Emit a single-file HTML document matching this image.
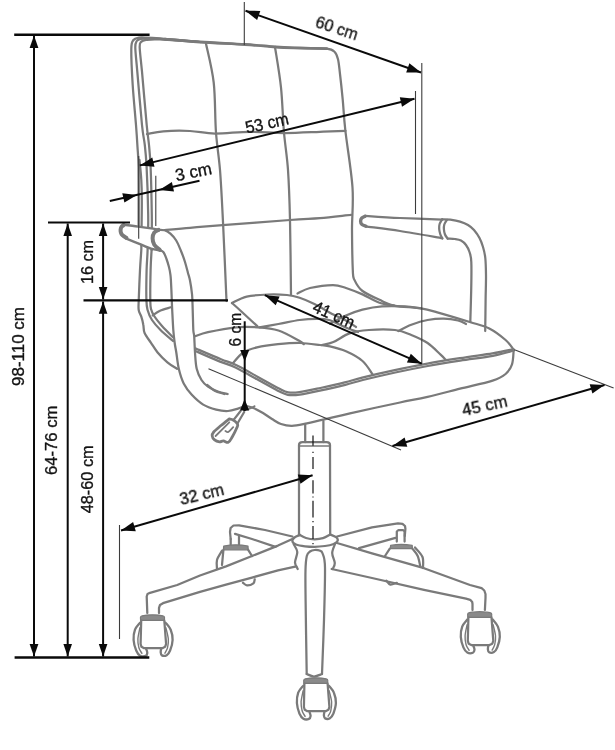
<!DOCTYPE html>
<html><head><meta charset="utf-8"><title>Chair dimensions</title>
<style>
html,body{margin:0;padding:0;background:#fff;}
svg{display:block}
text{font-family:"Liberation Sans",sans-serif;font-size:17.2px;fill:#111;stroke:#111;stroke-width:0.35px;}
</style></head><body>
<svg width="615" height="750" viewBox="0 0 615 750">
<rect width="615" height="750" fill="#fff"/>
<g fill="none" stroke="#7a7a7a" stroke-width="2.25" stroke-linecap="round" stroke-linejoin="round">
<path d="M200.0,42.0 C193.3,41.4 169.2,39.1 160.0,38.4 C150.8,37.7 148.5,37.7 145.0,37.6 C141.5,37.5 140.9,37.2 139.0,37.6 C137.1,38.0 134.8,38.1 133.5,40.0 C132.2,41.9 131.4,41.5 131.3,49.0 C131.2,56.5 131.9,72.3 132.7,85.0 C133.5,97.7 135.2,114.7 136.0,125.0 C136.8,135.3 137.1,140.0 137.5,147.0 C137.9,154.0 138.3,153.8 138.5,167.0 C138.7,180.2 138.6,216.2 138.6,226.0" />
<path d="M139.5,160.0 C139.8,163.3 140.9,173.3 141.3,180.0 C141.7,186.7 141.8,192.2 141.8,200.0 C141.9,207.8 141.6,222.5 141.6,227.0" />
<path d="M141.2,244.0 C141.2,245.0 141.5,245.7 141.3,250.0 C141.1,254.3 140.4,261.6 140.0,270.0 C139.6,278.4 138.9,294.0 138.7,300.7 C138.5,307.4 138.3,307.3 138.7,310.0 C139.1,312.7 140.5,314.2 141.3,316.7 C142.1,319.1 142.8,322.0 143.3,324.7 C143.9,327.4 143.3,330.0 144.6,333.0 C145.9,336.0 148.8,339.6 151.0,342.8 C153.2,346.1 154.9,349.2 157.6,352.5 C160.3,355.8 164.2,359.6 167.4,362.3 C170.6,365.0 175.4,367.7 177.0,368.8" />
<path d="M200.0,42.0 C193.3,41.5 168.8,39.4 160.0,38.8 C151.2,38.2 150.2,38.5 147.0,38.5 C143.8,38.5 142.7,38.4 141.0,38.8 C139.3,39.2 137.8,39.5 136.8,41.0 C135.9,42.5 135.2,42.6 135.3,47.7 C135.4,52.8 136.2,58.8 137.3,71.7 C138.4,84.6 140.8,112.8 142.0,125.0 C143.2,137.2 144.0,138.0 144.8,145.0 C145.6,152.0 146.0,155.3 146.6,167.0 C147.2,178.7 148.0,201.2 148.2,215.0 C148.4,228.8 147.9,240.8 147.6,250.0 C147.3,259.2 146.8,261.7 146.6,270.0 C146.4,278.3 146.2,293.3 146.4,300.0 C146.6,306.7 146.7,306.7 147.6,310.0 C148.5,313.3 149.8,316.7 152.0,320.0 C154.2,323.3 157.0,326.5 160.5,330.0 C164.0,333.5 170.9,339.2 173.0,341.0" />
<path d="M151.6,250.0 C151.6,244.2 152.0,228.8 151.8,215.0 C151.6,201.2 151.1,178.7 150.6,167.0 C150.1,155.3 149.7,152.0 149.0,145.0 C148.3,138.0 147.9,137.2 146.7,125.0 C145.5,112.8 143.2,84.6 142.0,71.7 C140.8,58.8 139.9,52.7 139.7,47.7 C139.5,42.8 139.9,43.3 141.0,42.0 C142.1,40.7 142.8,40.3 146.0,39.9 C149.2,39.5 151.0,39.1 160.0,39.5 C169.0,39.9 185.8,41.2 200.0,42.0 C214.2,42.8 232.3,43.7 245.0,44.5 C257.7,45.3 266.8,46.4 276.0,47.0 C285.2,47.6 291.6,47.7 300.0,48.0 C308.4,48.3 320.9,48.0 326.7,48.7 C332.5,49.4 332.8,50.2 334.7,52.0 C336.6,53.8 337.1,55.6 338.0,59.3 C338.9,63.0 339.2,67.3 340.0,74.0 C340.8,80.7 341.8,90.0 342.7,99.3 C343.6,108.6 343.7,115.3 345.3,130.0 C346.9,144.7 351.4,170.8 352.5,187.5 C353.6,204.2 351.9,216.2 352.0,230.0 C352.1,243.8 352.4,261.7 352.8,270.0 C353.2,278.3 352.8,276.3 354.4,279.8 C356.0,283.3 357.9,287.5 362.5,291.0 C367.1,294.5 376.6,298.5 382.0,301.0 C387.4,303.5 388.5,304.6 395.0,305.8 C401.5,307.0 413.9,307.3 421.0,308.4 C428.1,309.5 429.2,310.0 437.3,312.3 C445.4,314.6 461.1,319.3 469.8,322.0 C478.5,324.7 483.3,325.5 489.3,328.5 C495.3,331.5 501.5,336.5 505.6,340.0 C509.7,343.5 512.4,348.1 513.7,349.7" />
<path d="M165.0,39.2 C170.8,39.7 186.7,41.1 200.0,42.0 C213.3,42.9 232.3,43.7 245.0,44.5 C257.7,45.3 266.8,46.4 276.0,47.0 C285.2,47.6 291.6,47.7 300.0,48.0 C308.4,48.3 322.2,48.6 326.7,48.7" stroke-width="2.8"/>
<path d="M151.6,250.0 C151.4,253.3 150.8,261.7 150.6,270.0 C150.4,278.3 150.2,293.5 150.3,300.0 C150.4,306.5 150.3,306.2 151.0,309.0 C151.7,311.8 152.7,313.7 154.5,316.5 C156.3,319.3 158.9,322.5 162.0,326.0 C165.1,329.5 171.4,335.6 173.3,337.5" />
<path d="M206.0,43.7 C207.3,50.2 212.0,67.7 213.7,82.5 C215.4,97.3 214.9,117.9 216.0,132.5 C217.1,147.1 218.8,155.1 220.0,170.0 C221.2,184.9 221.9,200.2 223.0,222.0 C224.1,243.8 225.9,287.8 226.5,301.0" />
<path d="M275.0,47.0 C276.0,53.8 279.5,73.2 281.0,87.5 C282.5,101.8 282.8,118.8 284.0,132.5 C285.2,146.2 287.0,155.4 288.0,170.0 C289.0,184.6 289.5,199.2 290.0,220.0 C290.5,240.8 290.8,282.1 291.0,294.5" />
<path d="M147.0,134.0 C149.7,133.6 156.1,131.8 163.3,131.3 C170.5,130.8 181.4,130.6 190.0,131.0 C198.6,131.4 205.0,133.5 215.0,133.6 C225.0,133.7 238.4,131.9 250.0,131.8 C261.6,131.7 272.8,133.0 284.5,133.0 C296.2,133.0 309.8,132.2 320.0,131.8 C330.2,131.4 341.2,131.0 345.5,130.8" />
<path d="M164.5,230.2 C168.8,229.8 180.3,228.6 190.0,227.8 C199.7,227.0 205.8,226.5 222.5,225.2 C239.2,223.9 273.8,221.2 290.0,220.0 C306.2,218.8 309.8,218.9 320.0,218.1 C330.2,217.2 345.8,215.4 351.0,214.9" />
<path d="M232.0,303.0 C234.4,301.9 240.7,298.0 246.7,296.6 C252.7,295.2 261.2,294.8 267.9,294.5 C274.6,294.2 281.7,294.5 287.0,295.0 C292.3,295.5 295.0,296.2 299.6,297.7 C304.2,299.2 308.8,301.2 314.4,304.0 C320.0,306.8 328.3,311.9 333.4,314.6 C338.5,317.3 341.2,317.9 345.0,320.0 C348.8,322.1 354.2,325.8 356.0,327.0" />
<path d="M297.5,293.5 C299.6,292.6 304.1,289.4 310.0,288.0 C315.9,286.6 327.0,285.0 333.0,285.0 C339.0,285.0 341.1,286.4 346.0,288.0 C350.9,289.6 357.0,292.0 362.5,294.4 C368.0,296.8 373.4,300.6 378.8,302.5 C384.2,304.4 392.3,305.2 395.0,305.8" />
<path d="M232.0,303.0 C233.8,304.6 238.3,308.6 242.5,312.5 C246.7,316.4 254.8,323.9 257.3,326.2" />
<path d="M195.0,336.3 C197.2,335.6 201.2,333.7 208.0,332.2 C214.8,330.7 227.8,328.1 236.0,327.3 C244.2,326.5 250.2,326.8 257.3,327.3 C264.4,327.8 271.3,328.2 278.4,330.5 C285.4,332.8 295.4,338.7 299.6,341.0 C303.8,343.3 303.1,343.7 303.8,344.2" />
<path d="M259.4,327.3 C262.6,326.8 271.7,325.2 278.4,324.0 C285.1,322.8 293.2,320.9 299.6,320.0 C306.0,319.1 311.6,318.8 316.5,318.8 C321.4,318.8 324.2,318.6 329.0,320.0 C333.8,321.4 340.2,325.3 345.0,327.3 C349.8,329.3 355.8,331.2 358.0,332.0" />
<path d="M233.0,363.0 C234.7,361.3 239.0,355.3 243.0,352.7 C247.0,350.1 251.2,348.8 257.0,347.4 C262.8,346.0 270.8,344.9 278.0,344.2 C285.2,343.5 293.0,342.9 300.0,343.0 C307.0,343.1 315.0,344.4 320.0,345.0 C325.0,345.6 325.7,345.3 330.0,346.4 C334.3,347.4 340.6,348.9 346.0,351.3 C351.4,353.7 358.1,357.2 362.5,361.0 C366.9,364.8 370.7,371.8 372.3,374.0" />
<path d="M322.0,345.0 C323.9,344.5 328.8,343.9 333.4,342.0 C338.0,340.1 343.6,335.4 349.5,333.4 C355.4,331.4 361.4,330.6 369.0,330.0 C376.6,329.4 387.9,329.2 395.0,330.0 C402.1,330.8 405.9,332.8 411.3,335.0 C416.7,337.2 422.7,339.7 427.6,343.0 C432.5,346.3 437.6,351.9 440.6,354.6 C443.6,357.3 444.6,358.6 445.4,359.4" />
<path d="M398.3,331.0 C400.5,329.9 406.4,326.5 411.3,324.7 C416.2,322.9 422.2,321.0 427.6,320.0 C433.0,319.0 438.7,318.5 443.8,318.6 C448.9,318.7 454.3,319.6 458.0,320.5 C461.7,321.4 464.7,323.4 466.0,324.0" />
<path d="M330.0,323.7 C332.7,322.3 340.6,317.8 346.0,315.5 C351.4,313.2 356.5,311.2 362.5,309.7 C368.5,308.2 374.9,306.9 382.0,306.4 C389.1,305.8 398.3,306.1 404.8,306.4 C411.3,306.7 418.3,308.1 421.0,308.4" />
<path d="M152.7,315.3 C153.9,314.5 157.0,312.0 160.0,310.7 C163.0,309.4 168.9,307.9 170.7,307.3" />
<path d="M194.5,350.6 C195.1,350.9 193.8,350.3 198.0,352.1 C202.3,354.0 213.8,359.0 220.0,361.6 C226.3,364.1 229.3,364.6 235.5,367.5 C241.6,370.5 249.6,375.2 256.7,379.1 C263.8,383.0 272.7,388.1 277.8,390.7 C283.0,393.3 284.1,394.2 287.8,394.8 C291.4,395.5 294.2,395.4 299.8,394.6 C305.3,393.9 313.4,392.1 321.0,390.4 C328.6,388.8 338.3,386.5 345.3,384.8 C352.3,383.1 354.5,382.1 362.8,380.0 C371.1,378.0 384.4,374.9 395.3,372.5 C406.1,370.2 417.0,368.0 427.8,366.0 C438.6,364.0 449.4,362.3 460.2,360.6 C471.0,358.9 483.9,357.5 492.8,355.8 C501.8,354.1 510.4,351.4 513.9,350.5" />
<path d="M195.5,348.4 C196.1,348.6 194.7,348.0 199.0,349.9 C203.2,351.7 214.7,356.7 221.0,359.2 C227.2,361.8 230.4,362.3 236.5,365.3 C242.7,368.2 250.8,373.0 257.9,376.9 C265.0,380.8 273.9,385.9 279.0,388.5 C284.0,391.1 284.8,391.8 288.2,392.4 C291.6,393.0 294.1,392.9 299.4,392.2 C304.8,391.4 312.9,389.6 320.4,388.0 C328.0,386.3 337.7,384.1 344.7,382.4 C351.7,380.7 353.9,379.6 362.2,377.6 C370.5,375.5 383.9,372.4 394.7,370.1 C405.6,367.7 416.5,365.6 427.4,363.6 C438.2,361.6 449.0,359.9 459.8,358.2 C470.6,356.5 483.5,354.8 492.4,353.4 C501.3,351.9 509.8,350.0 513.3,349.3" />
<path d="M246.0,405.8 C247.3,406.2 251.2,407.0 254.0,408.2 C256.8,409.4 260.0,411.2 263.0,413.0 C266.0,414.8 269.0,417.2 272.0,419.0 C275.0,420.8 277.7,422.9 281.0,424.0 C284.3,425.1 287.7,425.9 292.0,425.8 C296.3,425.7 301.4,424.4 307.0,423.3 C312.6,422.2 318.2,420.9 325.4,419.2 C332.6,417.5 337.6,416.1 350.0,413.3 C362.4,410.5 387.1,405.2 400.0,402.5 C412.9,399.8 417.6,399.1 427.6,396.8 C437.6,394.5 449.2,391.4 460.0,388.7 C470.8,386.0 485.0,383.1 492.6,380.6 C500.2,378.2 502.4,376.7 505.6,374.0 C508.8,371.3 510.6,368.4 512.0,364.3 C513.4,360.2 513.4,352.1 513.7,349.7" />
<path d="M157.7,229.8 C158.8,229.9 162.4,229.5 164.5,230.2 C166.6,230.8 168.5,232.0 170.4,233.7 C172.3,235.4 174.4,237.6 176.2,240.5 C178.0,243.4 179.6,247.6 181.1,251.2 C182.6,254.8 183.9,258.4 185.0,262.0 C186.1,265.6 187.1,269.7 187.9,272.7 C188.7,275.7 189.2,276.4 189.9,280.0 C190.6,283.6 191.5,289.0 192.0,294.0 C192.5,299.0 192.5,304.0 192.7,310.0 C192.9,316.0 193.1,325.6 193.3,330.0 C193.6,334.4 193.9,332.6 194.2,336.3 C194.5,340.1 194.6,347.1 195.0,352.5 C195.4,357.9 195.6,364.2 196.7,368.8 C197.8,373.4 199.6,377.0 201.5,380.0 C203.4,383.0 205.3,384.8 208.0,386.7 C210.7,388.6 214.5,390.3 217.8,391.5 C221.1,392.7 226.0,393.6 227.6,394.0 L246.0,405.8 L238.0,408.6 L228.0,411.0 L216.2,409.6 L203.2,404.6 L191.8,394.8 L183.7,383.4 L178.8,368.8 L176.3,352.5 L174.7,343.0 L173.3,330.0 L172.2,310.0 L171.6,295.0 L170.9,280.0 L170.4,274.6 L168.9,266.8 L166.5,259.0 L163.5,252.2 L159.6,250.2 Z" fill="#fff" stroke="none"/>
<path d="M157.7,229.8 C158.8,229.9 162.4,229.5 164.5,230.2 C166.6,230.8 168.5,232.0 170.4,233.7 C172.3,235.4 174.4,237.6 176.2,240.5 C178.0,243.4 179.6,247.6 181.1,251.2 C182.6,254.8 183.9,258.4 185.0,262.0 C186.1,265.6 187.1,269.7 187.9,272.7 C188.7,275.7 189.2,276.4 189.9,280.0 C190.6,283.6 191.5,289.0 192.0,294.0 C192.5,299.0 192.5,304.0 192.7,310.0 C192.9,316.0 193.1,325.6 193.3,330.0 C193.6,334.4 193.9,332.6 194.2,336.3 C194.5,340.1 194.6,347.1 195.0,352.5 C195.4,357.9 195.6,364.2 196.7,368.8 C197.8,373.4 199.6,377.0 201.5,380.0 C203.4,383.0 205.3,384.8 208.0,386.7 C210.7,388.6 214.5,390.3 217.8,391.5 C221.1,392.7 226.0,393.6 227.6,394.0" />
<path d="M159.6,250.2 C160.2,250.5 162.3,250.7 163.5,252.2 C164.7,253.7 165.6,256.6 166.5,259.0 C167.4,261.4 168.2,264.2 168.9,266.8 C169.6,269.4 170.1,272.4 170.4,274.6 C170.7,276.8 170.7,276.6 170.9,280.0 C171.1,283.4 171.4,290.0 171.6,295.0 C171.8,300.0 171.9,304.2 172.2,310.0 C172.5,315.8 172.9,324.5 173.3,330.0 C173.7,335.5 174.2,339.2 174.7,343.0 C175.2,346.8 175.6,348.2 176.3,352.5 C177.0,356.8 177.6,363.7 178.8,368.8 C180.0,373.9 181.5,379.1 183.7,383.4 C185.9,387.7 188.6,391.3 191.8,394.8 C195.1,398.3 199.1,402.1 203.2,404.6 C207.3,407.1 212.1,408.5 216.2,409.6 C220.3,410.7 224.4,411.2 228.0,411.0 C231.6,410.8 235.0,409.5 238.0,408.6 C241.0,407.7 244.7,406.3 246.0,405.8" />
<path d="M122.7,224.7 L138.3,226.6 L153.0,228.6 L157.9,229.6 L160.8,250.5 L151.0,248.6 L141.3,244.7 L125.7,238.3 L125.7,238.3 L121.3,235.8 L119.6,232.8 L119.3,229.6 L120.3,226.6 L122.7,224.7 Z" fill="#fff" stroke="none"/>
<path d="M122.7,224.7 C125.3,225.0 133.2,225.9 138.3,226.6 C143.4,227.2 149.7,228.1 153.0,228.6 C156.3,229.1 157.1,229.4 157.9,229.6" stroke-width="2.4"/>
<path d="M125.7,238.3 C128.3,239.4 137.1,243.0 141.3,244.7 C145.5,246.4 147.8,247.6 151.0,248.6 C154.2,249.6 159.2,250.2 160.8,250.5" stroke-width="2.4"/>
<path d="M123.6,225.2 C123.2,225.5 121.9,226.2 121.4,227.0 C120.9,227.8 120.7,228.9 120.6,229.8 C120.5,230.7 120.6,231.7 120.9,232.6 C121.2,233.5 121.5,234.3 122.4,235.2 C123.3,236.1 125.7,237.4 126.4,237.8" stroke-width="4"/>
<path d="M158.6,229.9 C157.9,230.3 155.2,231.2 154.2,232.6 C153.2,234.0 152.6,236.3 152.6,238.3 C152.6,240.3 153.2,242.9 154.3,244.8 C155.5,246.7 158.6,248.8 159.5,249.6" stroke-width="4"/>
<path d="M207.2,385.0 C208.4,385.9 211.8,389.2 214.6,390.7 C217.4,392.2 222.7,393.4 224.3,394.0" />
<path d="M364.8,215.8 C370.7,216.2 387.1,217.4 400.0,218.0 C412.9,218.6 435.2,219.3 442.2,219.6" />
<path d="M365.7,226.4 C371.4,227.2 387.2,229.0 400.0,231.0 C412.8,233.0 435.2,237.0 442.2,238.2" />
<path d="M365.2,216.2 C364.6,216.5 362.6,217.2 361.8,218.0 C361.0,218.8 360.6,220.1 360.6,221.2 C360.6,222.3 361.1,223.8 362.0,224.6 C362.9,225.4 365.3,225.9 366.0,226.2" stroke-width="3.4"/>
<path d="M442.2,219.2 C441.8,220.0 440.1,222.4 439.6,224.0 C439.1,225.6 439.1,227.3 439.2,229.0 C439.3,230.7 439.7,232.4 440.2,234.0 C440.7,235.6 442.0,237.8 442.4,238.6" />
<path d="M447.0,219.8 C446.6,220.6 444.8,222.9 444.3,224.5 C443.8,226.1 443.8,227.6 443.9,229.3 C444.0,231.0 444.4,232.9 445.0,234.5 C445.6,236.1 447.2,237.9 447.7,238.6" />
<path d="M442.2,219.4 C443.6,219.4 447.3,219.3 450.3,219.7 C453.3,220.1 457.1,220.7 460.0,221.6 C462.9,222.5 465.7,223.6 468.0,225.0 C470.3,226.4 472.1,227.8 474.0,230.0 C475.9,232.2 478.0,235.2 479.5,238.0 C481.0,240.8 482.0,243.7 483.0,247.0 C484.0,250.3 484.8,253.3 485.3,258.0 C485.8,262.7 485.9,268.0 486.0,275.0 C486.1,282.0 485.7,290.7 485.6,300.0 C485.5,309.3 485.3,325.8 485.2,331.0" />
<path d="M447.7,238.6 C448.9,238.7 452.8,238.7 455.0,239.0 C457.2,239.3 459.2,239.5 461.0,240.5 C462.8,241.5 464.6,243.1 466.0,245.0 C467.4,246.9 468.6,249.2 469.5,252.0 C470.4,254.8 471.0,255.7 471.3,262.0 C471.6,268.3 471.4,280.0 471.2,290.0 C471.0,300.0 470.4,316.7 470.3,322.0" />
<path d="M305.2,424.6 L305.2,442.0" />
<path d="M323.4,421.0 L323.4,442.0" />
<path d="M299,535 L299,445 Q299,442 302.5,442 L326.5,442 Q330,442 330,445 L330.2,534.5"/>
<path d="M299.0,446.0 L330.0,446.0" stroke-width="1.6"/>
<path d="M240.6,411.0 L233.2,420.4" />
<path d="M244.2,412.0 L237.6,423.3" />
<path d="M229.3,418.9 C230.0,419.1 231.8,419.0 233.2,419.9 C234.6,420.8 237.0,422.9 237.6,424.3 C238.2,425.7 237.5,426.1 236.6,428.2 C235.7,430.3 233.6,434.6 232.2,437.0 C230.8,439.4 229.8,441.7 228.3,442.3 C226.8,442.9 224.9,441.0 223.4,440.9 C221.9,440.8 221.0,442.0 219.5,441.8 C218.0,441.6 215.8,440.9 214.6,439.9 C213.4,438.9 212.3,437.3 212.2,436.0 C212.0,434.7 212.2,433.8 213.7,432.0 C215.2,430.2 218.4,427.7 221.0,425.5 C223.6,423.3 227.9,420.0 229.3,418.9" stroke-width="2.8"/>
<path d="M229.3,422.3 L215.6,436.0" stroke-width="1.8"/>
<path d="M233.2,427.2 C232.4,428.0 229.6,431.4 228.3,432.0 C227.0,432.6 225.9,431.2 225.4,431.0" stroke-width="1.8"/>
<path d="M243.9,410.6 C245.0,410.2 248.9,408.9 250.7,408.2 C252.5,407.5 253.9,406.5 254.6,406.2" stroke-width="1.8"/>
<path d="M300.0,535.0 C299.1,535.4 295.8,536.5 294.5,537.5 C293.2,538.5 292.1,540.1 292.4,541.3 C292.6,542.5 293.9,543.7 296.0,544.5 C298.1,545.3 301.9,545.9 305.0,546.3 C308.1,546.7 311.3,546.8 314.6,546.8 C317.9,546.8 321.9,546.4 325.0,546.0 C328.1,545.6 330.9,545.1 333.0,544.3 C335.1,543.5 336.9,542.1 337.5,541.0 C338.1,539.9 337.7,538.6 336.5,537.5 C335.3,536.4 331.3,535.0 330.3,534.5" />
<path d="M299.0,534.5 C300.2,535.1 303.4,537.2 306.0,538.0 C308.6,538.8 311.8,539.3 314.6,539.3 C317.4,539.3 320.4,539.0 323.0,538.2 C325.6,537.4 329.1,535.1 330.3,534.5" />
<path d="M293.7,544.3 C294.3,545.6 297.1,549.0 297.3,552.0 C297.5,555.0 294.9,559.7 295.0,562.5 C295.1,565.3 297.2,567.9 297.7,569.0" />
<path d="M335.2,543.5 C334.7,545.1 332.3,549.8 332.2,553.0 C332.1,556.2 334.7,560.3 334.8,563.0 C334.9,565.7 333.1,568.0 332.7,569.0" />
<path d="M306.7,674.0 C306.5,661.7 305.8,617.3 305.6,600.0 C305.4,582.7 305.3,577.3 305.5,570.0 C305.7,562.7 306.1,559.1 306.8,556.0 C307.6,552.9 308.7,552.5 310.0,551.5 C311.3,550.5 313.0,550.1 314.6,550.0 C316.2,549.9 318.2,550.0 319.5,550.6 C320.8,551.2 321.7,550.6 322.6,553.5 C323.5,556.4 324.8,556.6 325.0,567.7 C325.2,578.8 324.5,602.3 324.0,620.0 C323.5,637.7 322.3,665.0 322.0,674.0" />
<path d="M306.7,674.0 C307.9,674.4 311.4,676.5 314.0,676.5 C316.6,676.5 320.7,674.4 322.0,674.0" />
<path d="M292.4,539.0 L278.0,545.6 L252.0,556.0 L226.0,566.4 L200.0,575.5 L177.2,585.0 L150.0,592.8 L147.5,594.0 L146.7,596.5 L147.3,613.0" />
<path d="M296.4,566.4 L278.0,570.3 L252.0,577.6 L226.0,584.6 L200.0,591.8 L163.0,603.2 L160.0,605.0 L159.0,607.8 L159.0,613.0" />
<path d="M292.4,536.5 L265.0,530.0 L239.0,525.3 L233.5,525.5 L230.6,528.0 L230.0,532.0 L230.7,539.0" />
<path d="M235.0,533.9 L252.0,539.0 L275.5,546.9" />
<path d="M337.0,543.0 L372.0,553.4 L424.0,568.2 L470.0,585.0 L481.6,588.2 L484.3,590.5 L485.5,594.0 L485.5,598.0 L484.9,610.0" />
<path d="M331.7,569.0 L372.0,578.0 L424.0,589.8 L466.0,598.6 L470.2,599.8 L472.2,602.0 L472.5,604.0 L472.5,610.0" />
<path d="M337.0,536.5 L372.0,527.3 L398.0,523.4 L402.5,523.8 L405.0,526.0 L405.4,528.6 L404.8,536.0" />
<path d="M359.0,548.2 L395.5,537.8" />
<path d="M140.6,620.4 C140.7,619.7 139.9,617.3 140.9,616.4 C141.9,615.5 144.6,615.4 146.5,615.1 C148.4,614.8 150.5,614.8 152.5,614.8 C154.5,614.8 156.6,614.8 158.5,615.1 C160.4,615.4 163.1,615.5 164.1,616.4 C165.1,617.3 164.3,619.7 164.4,620.4 Z" fill="#8a8a8a" stroke="#7a7a7a" stroke-width="1.2"/>
<path d="M141.2,620.4 L140.6,644.0 L141.5,646.8 L144.1,648.2 L162.3,648.2 L165.1,646.8 L166.1,644.0 L164.3,620.4" />
<path d="M140.1,622.6 C139.2,623.8 136.1,626.8 135.0,629.7 C133.9,632.6 133.4,636.5 133.6,640.0 C133.8,643.5 135.1,647.9 136.2,650.5 C137.3,653.1 138.5,654.8 140.1,655.7 C141.7,656.6 144.5,656.4 145.7,655.9 C146.9,655.4 147.2,654.0 147.3,652.8 C147.4,651.6 146.3,649.5 146.1,648.8" stroke-width="2.3"/>
<path d="M139.9,627.8 C139.6,629.6 138.1,635.5 137.9,638.8 C137.7,642.1 138.2,645.4 138.9,647.8 C139.6,650.2 141.4,652.5 141.9,653.4" stroke-width="1.4"/>
<path d="M165.5,622.6 C166.4,623.8 169.5,626.8 170.7,629.7 C171.9,632.6 172.7,636.5 172.6,640.0 C172.5,643.5 171.1,648.0 170.1,650.5 C169.1,653.0 168.1,654.4 166.7,655.2 C165.3,656.0 162.9,655.9 161.9,655.4 C160.9,654.9 160.8,653.4 160.7,652.3 C160.6,651.2 161.0,649.4 161.1,648.8" stroke-width="2.3"/>
<path d="M165.9,627.8 C166.3,629.6 168.0,635.5 168.3,638.8 C168.6,642.1 168.1,645.4 167.5,647.8 C166.9,650.2 165.3,652.3 164.9,653.2" stroke-width="1.4"/>
<path d="M303.9,683.4 C303.9,682.7 303.2,680.3 304.1,679.4 C305.1,678.5 307.8,678.4 309.8,678.1 C311.7,677.8 313.8,677.8 315.8,677.8 C317.8,677.8 319.8,677.8 321.8,678.1 C323.7,678.4 326.4,678.5 327.4,679.4 C328.3,680.3 327.6,682.7 327.6,683.4 Z" fill="#8a8a8a" stroke="#7a7a7a" stroke-width="1.2"/>
<path d="M304.4,683.4 L303.9,707.0 L304.8,709.8 L307.4,711.2 L325.6,711.2 L328.4,709.8 L329.4,707.0 L327.6,683.4" />
<path d="M303.4,685.6 C302.5,686.8 299.3,689.8 298.2,692.7 C297.2,695.6 296.7,699.5 296.9,703.0 C297.1,706.5 298.4,710.9 299.4,713.5 C300.5,716.1 301.8,717.8 303.4,718.7 C304.9,719.6 307.8,719.4 308.9,718.9 C310.1,718.4 310.5,717.0 310.6,715.8 C310.6,714.6 309.6,712.5 309.4,711.8" stroke-width="2.3"/>
<path d="M303.1,690.8 C302.8,692.6 301.3,698.5 301.1,701.8 C301.0,705.1 301.5,708.4 302.1,710.8 C302.8,713.2 304.6,715.5 305.1,716.4" stroke-width="1.4"/>
<path d="M328.8,685.6 C329.6,686.8 332.8,689.8 333.9,692.7 C335.1,695.6 336.0,699.5 335.9,703.0 C335.8,706.5 334.3,711.0 333.4,713.5 C332.4,716.0 331.3,717.4 329.9,718.2 C328.6,719.0 326.1,718.9 325.1,718.4 C324.1,717.9 324.1,716.4 323.9,715.3 C323.8,714.2 324.3,712.4 324.4,711.8" stroke-width="2.3"/>
<path d="M329.1,690.8 C329.5,692.6 331.3,698.5 331.6,701.8 C331.8,705.1 331.3,708.4 330.8,710.8 C330.2,713.2 328.6,715.3 328.1,716.2" stroke-width="1.4"/>
<path d="M467.8,617.3 C467.9,616.6 467.1,614.2 468.1,613.3 C469.1,612.4 471.8,612.3 473.7,612.0 C475.6,611.7 477.7,611.7 479.7,611.7 C481.7,611.7 483.8,611.7 485.7,612.0 C487.6,612.3 490.3,612.4 491.3,613.3 C492.3,614.2 491.5,616.6 491.6,617.3 Z" fill="#8a8a8a" stroke="#7a7a7a" stroke-width="1.2"/>
<path d="M468.4,617.3 L467.8,640.9 L468.7,643.7 L471.3,645.1 L489.5,645.1 L492.3,643.7 L493.3,640.9 L491.5,617.3" />
<path d="M467.3,619.5 C466.4,620.7 463.3,623.7 462.2,626.6 C461.1,629.5 460.6,633.4 460.8,636.9 C461.0,640.4 462.3,644.8 463.4,647.4 C464.5,650.0 465.7,651.7 467.3,652.6 C468.9,653.5 471.7,653.3 472.9,652.8 C474.1,652.3 474.4,650.9 474.5,649.7 C474.6,648.5 473.5,646.4 473.3,645.7" stroke-width="2.3"/>
<path d="M467.1,624.7 C466.8,626.5 465.3,632.4 465.1,635.7 C464.9,639.0 465.4,642.3 466.1,644.7 C466.8,647.1 468.6,649.4 469.1,650.3" stroke-width="1.4"/>
<path d="M492.7,619.5 C493.6,620.7 496.7,623.7 497.9,626.6 C499.1,629.5 499.9,633.4 499.8,636.9 C499.7,640.4 498.3,644.9 497.3,647.4 C496.3,649.9 495.3,651.3 493.9,652.1 C492.5,652.9 490.1,652.8 489.1,652.3 C488.1,651.8 488.0,650.3 487.9,649.2 C487.8,648.1 488.2,646.3 488.3,645.7" stroke-width="2.3"/>
<path d="M493.1,624.7 C493.5,626.5 495.2,632.4 495.5,635.7 C495.8,639.0 495.3,642.3 494.7,644.7 C494.1,647.1 492.5,649.2 492.1,650.1" stroke-width="1.4"/>
<path d="M396.8,541.5 L396.8,531.5 L398.5,530.0 L403.0,530.0 L404.6,531.5 L404.6,541.5" />
<path d="M390.3,548.6 L390.6,545.4 Q401,543.4 412.2,545.4 L412.4,548.6 Z" fill="#8a8a8a" stroke="#7a7a7a" stroke-width="1.2"/>
<path d="M389.8,548.6 L385.0,556.0" />
<path d="M412.4,548.6 C413.3,549.8 416.4,553.0 417.7,556.0 C419.0,559.0 419.9,564.7 420.3,566.4" />
<path d="M415.0,547.5 C416.2,549.1 421.2,553.6 422.5,557.0 C423.8,560.4 422.9,566.2 423.0,568.0" />
<path d="M386.4,580.7 C387.0,581.4 388.6,584.2 390.3,584.6 C392.0,585.0 395.7,583.1 396.8,582.8" />
<path d="M230.7,539.0 L230.7,544.5" />
<path d="M239.0,536.0 L239.0,544.5" />
<path d="M223.4,549.8 L223.7,546 Q236,543.6 248,546 L248.2,549.8 Z" fill="#8a8a8a" stroke="#7a7a7a" stroke-width="1.2"/>
<path d="M223.4,549.8 L222.0,565.0" />
<path d="M222.0,550.8 C221.2,552.3 217.8,557.0 217.0,560.0 C216.2,563.0 217.0,567.5 217.0,569.0" />
<path d="M248.2,549.8 L252.0,556.0" />
<path d="M243.0,582.8 C243.7,583.2 245.3,585.3 247.0,585.4 C248.7,585.5 252.1,584.3 253.4,583.3 C254.7,582.3 254.5,580.0 254.7,579.4" />
</g>
<g stroke="#3c3c3c" stroke-width="1.1" fill="none">
<line x1="244.3" y1="2.0" x2="244.3" y2="45.0" />
<line x1="421.8" y1="63.0" x2="421.8" y2="364.0" />
<line x1="415.5" y1="91.0" x2="415.5" y2="214.0" />
<line x1="138.7" y1="156.0" x2="138.7" y2="238.8" />
<line x1="155.8" y1="175.7" x2="155.8" y2="226.0" />
<line x1="119.5" y1="525.0" x2="119.5" y2="639.0" />
<line x1="208.5" y1="368.7" x2="401.0" y2="450.0" />
<line x1="514.5" y1="349.7" x2="613.6" y2="388.0" />
<line x1="313.0" y1="435.5" x2="313.0" y2="445.8" stroke="#111" stroke-width="1.2"/>
<line x1="313.0" y1="451.7" x2="313.0" y2="452.9" stroke="#111" stroke-width="1.2"/>
<line x1="313.0" y1="457.0" x2="313.0" y2="469.0" stroke="#111" stroke-width="1.2"/>
<line x1="313.0" y1="480.3" x2="313.0" y2="493.4" stroke="#111" stroke-width="1.2"/>
<line x1="313.0" y1="496.4" x2="313.0" y2="497.6" stroke="#111" stroke-width="1.2"/>
<line x1="313.0" y1="500.8" x2="313.0" y2="517.6" stroke="#111" stroke-width="1.2"/>
<line x1="313.0" y1="521.1" x2="313.0" y2="522.3" stroke="#111" stroke-width="1.2"/>
<line x1="313.0" y1="526.0" x2="313.0" y2="539.0" stroke="#111" stroke-width="1.2"/>
<line x1="313.0" y1="543.1" x2="313.0" y2="544.3" stroke="#111" stroke-width="1.2"/>
</g>
<g stroke="#0a0a0a" fill="none" stroke-linecap="butt">
<line x1="14.2" y1="34.7" x2="149.6" y2="34.7" stroke-width="2.4"/>
<line x1="14.6" y1="657.5" x2="149.3" y2="657.5" stroke-width="2.4"/>
<line x1="48" y1="222.5" x2="130" y2="222.5" stroke-width="2.2"/>
<line x1="83.5" y1="300.4" x2="228" y2="300.4" stroke-width="2.2"/>
<line x1="34.0" y1="35.6" x2="34.0" y2="656.4" stroke-width="2.0"/>
<line x1="67.7" y1="223.5" x2="67.7" y2="656.4" stroke-width="2.0"/>
<line x1="103.1" y1="223.5" x2="103.1" y2="299.5" stroke-width="2.0"/>
<line x1="103.1" y1="301.4" x2="103.1" y2="656.4" stroke-width="2.0"/>
<line x1="244.7" y1="321.3" x2="244.7" y2="411" stroke-width="2.0"/>
<line x1="245.5" y1="10.8" x2="421.0" y2="72.5" stroke-width="2.0"/>
<line x1="139.8" y1="165.4" x2="414.5" y2="98.7" stroke-width="2.0"/>
<line x1="109.8" y1="201" x2="199.5" y2="180.8" stroke-width="2.0"/>
<line x1="264.8" y1="295.2" x2="421.7" y2="363.7" stroke-width="2.0"/>
<line x1="392.5" y1="446.0" x2="604.5" y2="385.0" stroke-width="2.0"/>
<line x1="121.0" y1="530.5" x2="312.6" y2="475.3" stroke-width="2.0"/>
</g>
<g fill="#0a0a0a" stroke="none">
<polygon points="34.0,35.6 38.4,48.0 29.6,48.0"/>
<polygon points="34.0,656.4 29.6,644.0 38.4,644.0"/>
<polygon points="67.7,223.5 72.0,235.9 63.4,235.9"/>
<polygon points="67.7,656.4 63.4,644.0 72.0,644.0"/>
<polygon points="103.1,223.5 107.4,235.9 98.8,235.9"/>
<polygon points="103.1,299.5 98.8,287.1 107.4,287.1"/>
<polygon points="103.1,301.4 107.4,313.8 98.8,313.8"/>
<polygon points="103.1,656.4 98.8,644.0 107.4,644.0"/>
<polygon points="244.7,361.5 240.2,350.0 249.2,350.0"/>
<polygon points="244.6,398.9 249.2,410.6 240.0,410.6"/>
<polygon points="245.5,10.8 260.3,10.9 257.1,20.0"/>
<polygon points="421.0,72.5 406.2,72.4 409.4,63.3"/>
<polygon points="139.8,165.4 152.3,157.4 154.5,166.8"/>
<polygon points="414.5,98.7 402.0,106.7 399.8,97.3"/>
<polygon points="137.0,194.9 124.4,202.6 122.3,193.3"/>
<polygon points="159.3,189.9 171.9,182.1 174.0,191.5"/>
<polygon points="264.8,295.2 279.6,296.4 275.7,305.2"/>
<polygon points="421.7,363.7 406.9,362.5 410.8,353.7"/>
<polygon points="392.5,446.0 404.6,437.5 407.3,446.7"/>
<polygon points="604.5,385.0 592.4,393.5 589.7,384.3"/>
<polygon points="121.0,530.5 133.1,522.0 135.8,531.2"/>
<polygon points="312.6,475.3 300.5,483.8 297.8,474.6"/>
</g>
<g opacity="0.99">
<text transform="translate(24.0,386.0) rotate(-90.0)" textLength="79.0" lengthAdjust="spacingAndGlyphs">98-110 cm</text>
<text transform="translate(57.2,475.0) rotate(-90.0)" textLength="69.5" lengthAdjust="spacingAndGlyphs">64-76 cm</text>
<text transform="translate(92.6,513.3) rotate(-90.0)" textLength="68.0" lengthAdjust="spacingAndGlyphs">48-60 cm</text>
<text transform="translate(93.3,284.0) rotate(-90.0)" textLength="44.0" lengthAdjust="spacingAndGlyphs">16 cm</text>
<text transform="translate(240.5,346.5) rotate(-90.0)" textLength="33.7" lengthAdjust="spacingAndGlyphs">6 cm</text>
<text transform="translate(314.4,26.8) rotate(18.0)" textLength="43.6" lengthAdjust="spacingAndGlyphs">60 cm</text>
<text transform="translate(246.8,133.6) rotate(-12.5)" textLength="44.0" lengthAdjust="spacingAndGlyphs">53 cm</text>
<text transform="translate(176.5,181.2) rotate(-11.5)" textLength="37.0" lengthAdjust="spacingAndGlyphs">3 cm</text>
<text transform="translate(311.6,311.2) rotate(23.7)" textLength="43.7" lengthAdjust="spacingAndGlyphs">41 cm</text>
<text transform="translate(463.4,416.0) rotate(-12.3)" textLength="46.0" lengthAdjust="spacingAndGlyphs">45 cm</text>
<text transform="translate(181.2,505.1) rotate(-13.7)" textLength="45.2" lengthAdjust="spacingAndGlyphs">32 cm</text>
</g>
</svg>
</body></html>
